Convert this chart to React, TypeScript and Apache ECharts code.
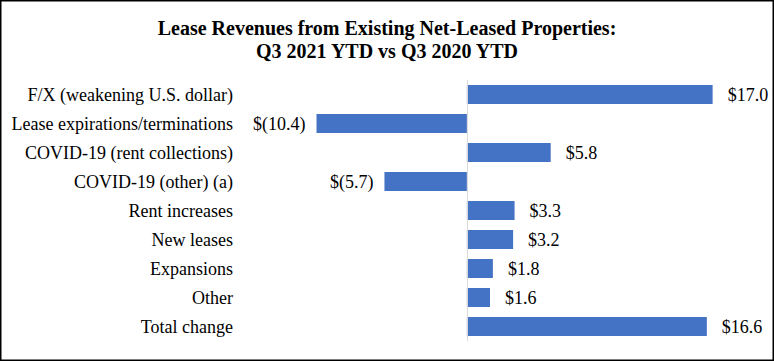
import React, { useEffect, useRef } from "react";
import * as echarts from "echarts";

const categories = [
  "F/X (weakening U.S. dollar)",
  "Lease expirations/terminations",
  "COVID-19 (rent collections)",
  "COVID-19 (other) (a)",
  "Rent increases",
  "New leases",
  "Expansions",
  "Other",
  "Total change",
];
const values = [17.0, -10.4, 5.8, -5.7, 3.3, 3.2, 1.8, 1.6, 16.6];
const titleLines = [
  "Lease Revenues from Existing Net-Leased Properties:",
  "Q3 2021 YTD vs Q3 2020 YTD",
];

const fmt = (v: number) =>
  v < 0 ? `$(${Math.abs(v).toFixed(1)})` : `$${v.toFixed(1)}`;

export default function App() {
  const ref = useRef<HTMLDivElement>(null);
  useEffect(() => {
    if (!ref.current) return;
    const chart = echarts.init(ref.current, null, { renderer: "svg" });
    const font = "Liberation Serif";
    chart.setOption({
      animation: false,
      backgroundColor: "#ffffff",
      textStyle: { fontFamily: font },
      title: {
        text: titleLines.join("\n"),
        left: "center",
        top: 11,
        textStyle: {
          fontFamily: font,
          fontWeight: "bold",
          fontSize: 20,
          lineHeight: 23,
          color: "#000000",
        },
      },
      graphic: [
        {
          type: "rect",
          shape: { x: 0.75, y: 0.75, width: 772.5, height: 359.5 },
          style: { fill: "none", stroke: "#000000", lineWidth: 1.5 },
          z: 100,
        },
      ],
      grid: { left: 250, right: 18, top: 80, bottom: 20, containLabel: false },
      xAxis: {
        type: "value",
        min: -15,
        max: 20,
        show: false,
        splitLine: { show: false },
      },
      yAxis: {
        type: "category",
        data: categories,
        inverse: true,
        axisLine: { show: false, onZero: false },
        axisTick: { show: false },
        axisLabel: {
          margin: 17,
          fontFamily: font,
          fontSize: 18,
          color: "#000000",
        },
      },
      series: [
        {
          type: "bar",
          data: values.map((v) =>
            v < 0
              ? { value: v, label: { position: "left", distance: 11 } }
              : { value: v }
          ),
          barWidth: 19,
          itemStyle: { color: "#4472C4" },
          label: {
            show: true,
            position: "right",
            distance: 15,
            fontFamily: font,
            fontSize: 18,
            color: "#000000",
            formatter: (p: any) => fmt(p.value),
          },
          markLine: {
            silent: true,
            symbol: "none",
            label: { show: false },
            lineStyle: { color: "#d9d9d9", type: "solid", width: 1 },
            data: [{ xAxis: 0 }],
          },
        },
      ],
    });
    return () => chart.dispose();
  }, []);
  return (
    <div
      ref={ref}
      style={{ position: "absolute", left: 0, top: 0, width: 774, height: 361 }}
    />
  );
}
